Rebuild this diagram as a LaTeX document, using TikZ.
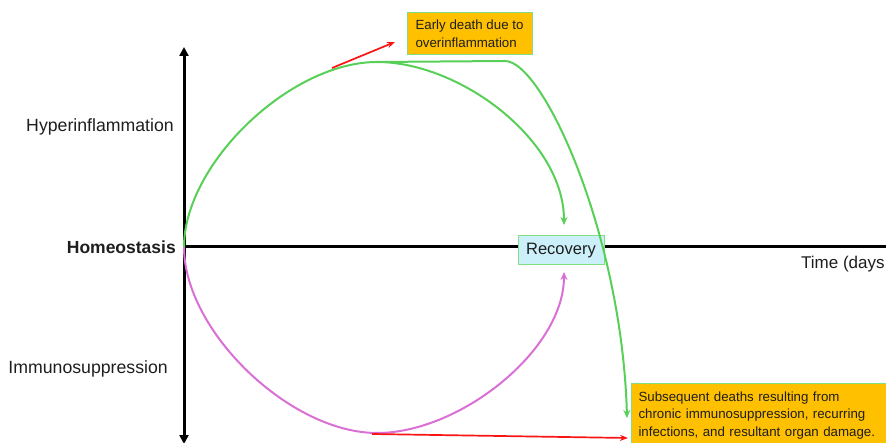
\documentclass[tikz,border=0pt]{standalone}
\usepackage{fontspec}
\setmainfont{Liberation Sans}
\usetikzlibrary{arrows.meta}
\definecolor{gline}{RGB}{88,208,88}
\definecolor{mline}{RGB}{218,112,214}
\definecolor{rline}{RGB}{250,20,20}
\definecolor{obox}{RGB}{255,192,0}
\definecolor{bbox}{RGB}{204,240,250}
\definecolor{bord}{RGB}{130,222,130}
\definecolor{txt}{RGB}{30,30,30}
\tikzset{
  axis/.style={line width=3pt,black,-{Triangle[length=9pt,width=9pt]}},
  lbl/.style={text=txt,font=\fontsize{17.7}{20}\selectfont,inner sep=0pt},
  gpath/.style={line width=2pt,gline},
  mpath/.style={line width=2pt,mline},
  rpath/.style={line width=1.7pt,rline,-{Stealth[length=8pt,width=6pt]}},
  tip/.style={-{Stealth[length=8pt,width=7pt]}},
  orangebox/.style={draw=bord,line width=1pt,fill=obox,text=txt,align=left,
    font=\fontsize{13.3}{17.5}\selectfont},
  recbox/.style={draw=bord,line width=1pt,fill=bbox,text=txt,
    font=\fontsize{16.5}{19}\selectfont,minimum width=86pt,minimum height=29pt,inner sep=0pt}
}
\begin{document}
\begin{tikzpicture}[x=1pt,y=-1pt]
\useasboundingbox (0,0) rectangle (886,443);
\clip (0,0) rectangle (886,443);
% axes
\coordinate (O) at (184,247);
\coordinate (ytop) at (184,47);
\coordinate (ybot) at (184,444);
\coordinate (xend) at (890,247);
\draw[line width=3pt] (O) -- (xend);
\draw[axis] (O) -- (ytop);
\draw[axis] (O) -- (ybot);
% labels
\node[lbl,anchor=east] (hyper) at (174,127) {Hyperinflammation};
\node[lbl,anchor=east,font=\fontsize{17.5}{20}\selectfont\bfseries] (homeo) at (176,247) {Homeostasis};
\node[lbl,anchor=east] (immuno) at (168,369) {Immunosuppression};
\node[lbl,anchor=west,font=\fontsize{17}{20}\selectfont] (time) at (801,264) {Time (days};
% boxes
\node[recbox] (rec) at (561,250.5) {Recovery};
\node[orangebox,minimum width=125pt,minimum height=42pt,inner sep=0pt] (early) at (469.5,34) {Early death due to\\overinflammation};
\node[orangebox,anchor=north west,text width=250pt,minimum height=64pt,inner xsep=7pt,inner ysep=4pt] (late) at (631,383) {Subsequent deaths resulting from\\chronic immunosuppression, recurring\\infections, and resultant organ damage.};
% curve points
\coordinate (gtop) at (377,62);
\coordinate (gend) at (564,225);
\coordinate (hz) at (505,61);
\coordinate (gfar) at (627,418);
\coordinate (mbot) at (377,433);
\coordinate (mend) at (564,272);
\coordinate (rs1) at (332,68);
\coordinate (re1) at (395,42);
\coordinate (rs2) at (372,434);
\coordinate (re2) at (628,438);
% green paths
\draw[gpath] (O) .. controls (184,164) and (290,62) .. (gtop);
\draw[gpath,tip] (gtop) .. controls (460,62) and (564,140) .. (gend);
\draw[gpath,tip] (gtop) -- (hz) .. controls (543,61) and (622,235) .. (gfar);
% magenta paths
\draw[mpath] (O) .. controls (184,331) and (290,433) .. (mbot);
\draw[mpath,tip] (mbot) .. controls (460,433) and (564,350) .. (mend);
% red arrows
\draw[rpath] (rs1) -- (re1);
\draw[rpath] (rs2) -- (re2);
\end{tikzpicture}
\end{document}
